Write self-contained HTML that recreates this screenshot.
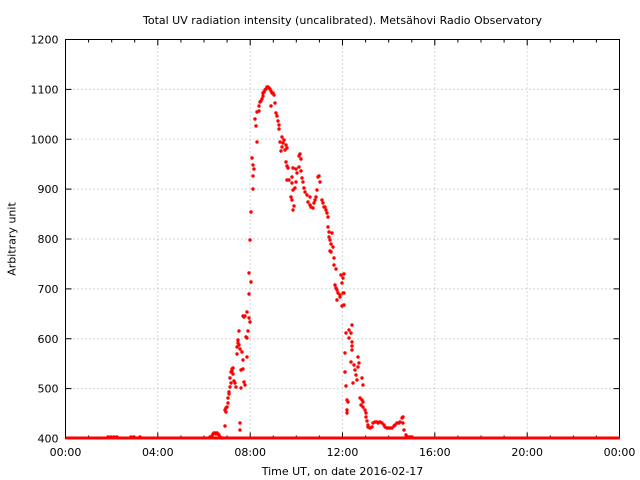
<!DOCTYPE html>
<html><head><meta charset="utf-8"><style>
html,body{margin:0;padding:0;background:#fff;}
svg{display:block;}
text{font-family:"DejaVu Sans","Liberation Sans",sans-serif;font-size:11px;fill:#000;}
</style></head><body>
<svg width="640" height="480" viewBox="0 0 640 480" xmlns="http://www.w3.org/2000/svg">
<rect width="640" height="480" fill="#fff"/>
<!-- grid -->
<g stroke="#b0b0b0" stroke-width="1" stroke-dasharray="1,3" fill="none">
<line x1="157.8" y1="39.5" x2="157.8" y2="438.5"/>
<line x1="250.2" y1="39.5" x2="250.2" y2="438.5"/>
<line x1="342.5" y1="39.5" x2="342.5" y2="438.5"/>
<line x1="434.8" y1="39.5" x2="434.8" y2="438.5"/>
<line x1="527.2" y1="39.5" x2="527.2" y2="438.5"/>
<line x1="65.5" y1="89.4" x2="619.5" y2="89.4"/>
<line x1="65.5" y1="139.3" x2="619.5" y2="139.3"/>
<line x1="65.5" y1="189.1" x2="619.5" y2="189.1"/>
<line x1="65.5" y1="239" x2="619.5" y2="239"/>
<line x1="65.5" y1="288.9" x2="619.5" y2="288.9"/>
<line x1="65.5" y1="338.8" x2="619.5" y2="338.8"/>
<line x1="65.5" y1="388.6" x2="619.5" y2="388.6"/>
</g>
<!-- axes border -->
<rect x="65.5" y="39.5" width="554" height="399" fill="none" stroke="#000" stroke-width="1"/>
<!-- ticks -->
<g stroke="#000" stroke-width="1">
<!-- y major left/right -->
<path d="M65.5 89.4h6M65.5 139.3h6M65.5 189.1h6M65.5 239h6M65.5 288.9h6M65.5 338.8h6M65.5 388.6h6
M619.5 89.4h-6M619.5 139.3h-6M619.5 189.1h-6M619.5 239h-6M619.5 288.9h-6M619.5 338.8h-6M619.5 388.6h-6"/>
<!-- x major bottom/top -->
<path d="M157.8 438.5v-6M250.2 438.5v-6M342.5 438.5v-6M434.8 438.5v-6M527.2 438.5v-6
M157.8 39.5v6M250.2 39.5v6M342.5 39.5v6M434.8 39.5v6M527.2 39.5v6"/>
<!-- x minor -->
<path d="M88.6 438.5v-3M111.7 438.5v-3M134.7 438.5v-3M180.9 438.5v-3M204 438.5v-3M227.1 438.5v-3M273.3 438.5v-3M296.3 438.5v-3M319.4 438.5v-3M365.6 438.5v-3M388.7 438.5v-3M411.8 438.5v-3M457.9 438.5v-3M481 438.5v-3M504.1 438.5v-3M550.3 438.5v-3M573.4 438.5v-3M596.4 438.5v-3
M88.6 39.5v3M111.7 39.5v3M134.7 39.5v3M180.9 39.5v3M204 39.5v3M227.1 39.5v3M273.3 39.5v3M296.3 39.5v3M319.4 39.5v3M365.6 39.5v3M388.7 39.5v3M411.8 39.5v3M457.9 39.5v3M481 39.5v3M504.1 39.5v3M550.3 39.5v3M573.4 39.5v3M596.4 39.5v3"/>
</g>
<!-- data -->
<line x1="65.5" y1="438" x2="620" y2="438" stroke="#ff0000" stroke-width="3"/>
<path fill="none" stroke="#ff0000" stroke-width="3.4" stroke-linecap="round" d="
M108 437h0M111 437h0M114 437h0M117 437h0M131 437h0M134 437h0M140 437h0
M210 437h0M212 436h0M213 434h0M214 433h0M215 433h0M216 434h0M217 433h0M218 434h0M219 435h0M220 437h0M222 438h0
M225 426h0M225 410h0M226 408h0M226 412h0M227 407h0M228 403h0M228 398h0M229 394h0M229 392h0M230 387h0M231 383h0M230 378h0M231 372h0M232 369h0M233 368h0M232 371h0M233 374h0M234 381h0M235 383h0M236 387h0
M237 354h0M237 347h0M238 343h0M238 340h0M239 331h0M239 345h0M240 349h0M240 423h0M240 430h0M241 370h0M241 388h0M242 352h0M243 360h0M243 369h0M243 316h0M244 317h0M244 382h0M245 385h0M245 316h0
M246 337h0M247 338h0M247 357h0M247 312h0M248 331h0M249 318h0M250 322h0M249 294h0M251 282h0M249 273h0M250 240h0M251 212h0M253 189h0M253 176h0M254 169h0M253 165h0M252 158h0
M257 142h0M256 126h0M255 119h0M257 112h0M259 111h0M259 106h0M260 102h0M261 101h0M262 99h0M263 96h0M263 93h0M264 92h0M265 90h0M266 89h0M267 87h0M268 87h0M269 88h0M270 89h0M271 91h0M272 93h0M273 93h0M274 95h0
M271 106h0M275 103h0M276 113h0M277 116h0M278 121h0M279 125h0M279 129h0M282 137h0M280 142h0M283 143h0M282 147h0M281 151h0M285 150h0M287 148h0M284 140h0M286 145h0
M286 162h0M287 166h0M288 168h0M289 180h0M292 183h0M293 190h0M291 197h0M292 200h0M294 206h0M293 210h0M293 168h0M296 169h0M297 173h0M299 156h0M301 159h0M300 154h0M299 167h0M301 171h0
M287 180h0M292 177h0M296 182h0M295 188h0
M302 178h0M303 182h0M304 188h0M305 192h0M307 195h0M310 197h0M308 202h0M310 205h0M313 208h0M311 207h0M314 203h0M315 200h0M316 197h0M317 190h0M318 177h0M319 176h0M320 182h0
M322 200h0M323 203h0M324 207h0M325 207h0M326 210h0M327 213h0M328 217h0M328 227h0M329 232h0M329 237h0M330 240h0M331 244h0M332 233h0M333 247h0M331 252h0M334 258h0M330 251h0
M334 265h0M336 269h0M341 275h0M344 274h0M343 278h0M342 283h0M335 285h0M336 288h0M337 290h0M338 293h0M340 295h0M337 300h0M340 297h0M343 293h0M344 293h0M342 306h0M344 305h0
M352 325h0M346 333h0M349 330h0M351 333h0M349 338h0M352 342h0M352 346h0M352 350h0M345 353h0M351 362h0M358 357h0M359 363h0M358 367h0M354 365h0M355 370h0M356 375h0M353 383h0M357 380h0M362 378h0M363 385h0
M345 372h0M346 386h0M347 400h0M348 402h0M347 410h0M347 413h0
M360 398h0M362 400h0M363 402h0M361 405h0M363 407h0M365 410h0M366 413h0M366 417h0M367 421h0M368 425h0M368 427h0M370 428h0M372 427h0
M373 423h0M375 422h0M377 422h0M378 423h0M380 422h0M382 423h0M384 425h0M385 427h0M387 428h0M388 428h0M390 428h0M392 428h0M394 426h0M395 425h0M397 423h0M399 423h0M400 422h0M402 418h0M403 417h0
M403 423h0M404 430h0M406 435h0M408 437h0M410 437h0M412 437h0"/>
<!-- labels -->
<text x="342.5" y="24" text-anchor="middle">Total UV radiation intensity (uncalibrated). Metsähovi Radio Observatory</text>
<g text-anchor="end">
<text x="58.5" y="43.5">1200</text>
<text x="58.5" y="93.4">1100</text>
<text x="58.5" y="143.3">1000</text>
<text x="58.5" y="193.1">900</text>
<text x="58.5" y="243">800</text>
<text x="58.5" y="292.9">700</text>
<text x="58.5" y="342.8">600</text>
<text x="58.5" y="392.6">500</text>
<text x="58.5" y="442.5">400</text>
</g>
<g text-anchor="middle">
<text x="65.5" y="456">00:00</text>
<text x="157.8" y="456">04:00</text>
<text x="250.2" y="456">08:00</text>
<text x="342.5" y="456">12:00</text>
<text x="434.8" y="456">16:00</text>
<text x="527.2" y="456">20:00</text>
<text x="619.5" y="456">00:00</text>
<text x="342.5" y="475">Time UT, on date 2016-02-17</text>
<text x="0" y="0" transform="translate(15.5,239) rotate(-90)">Arbitrary unit</text>
</g>
</svg>
</body></html>
